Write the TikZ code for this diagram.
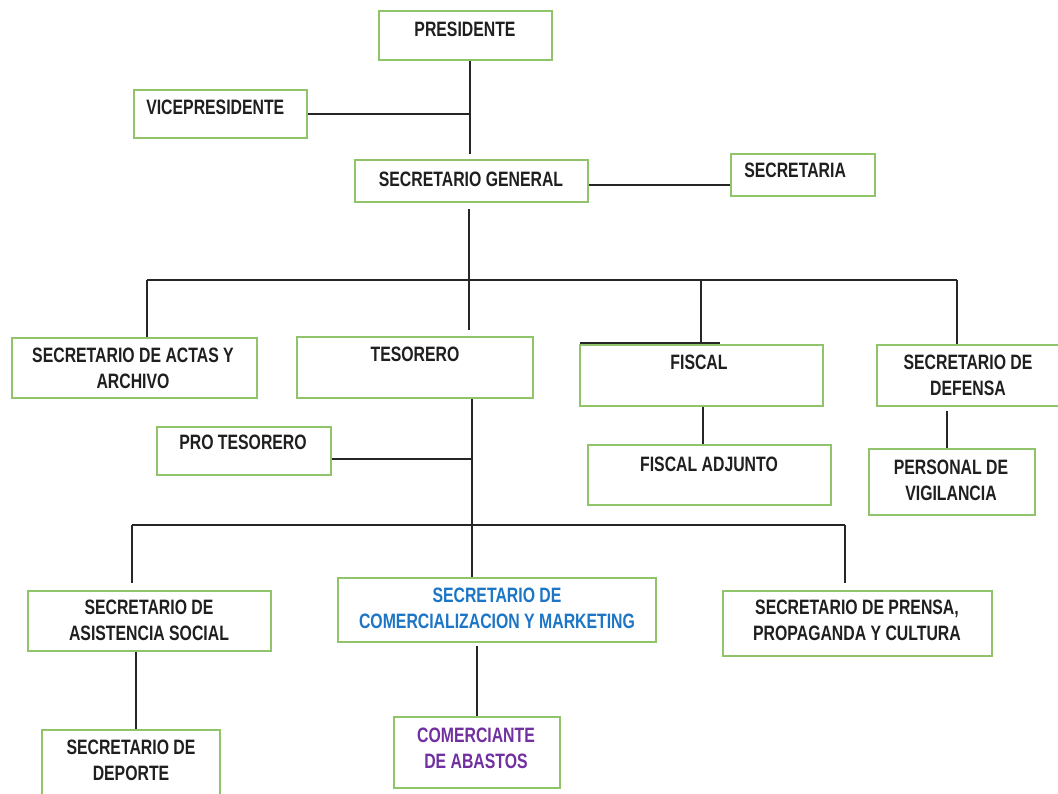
\documentclass[tikz,border=0pt]{standalone}
\usepackage{fontspec}
\newfontfamily\orgfont{Liberation Sans}[FakeStretch=0.76]
\usetikzlibrary{fit}
\definecolor{boxgreen}{HTML}{8FC46B}
\definecolor{txtblue}{HTML}{1C75C5}
\definecolor{txtpurple}{HTML}{7030A0}
\begin{document}
\begin{tikzpicture}[x=0.025cm,y=-0.025cm,
  box/.style={draw=boxgreen, line width=1.4pt, inner sep=0pt},
  lbl/.style={font=\orgfont\bfseries\fontsize{14.8}{18.5}\selectfont, text=black!88, align=center, inner sep=0pt, anchor=north},
  conn/.style={draw=black!85, line width=1.05pt}]
\useasboundingbox (0,0) rectangle (1058,794);
% boxes
\node[box, fit={(379,11) (552,60)}] (pres) {};
\node[box, fit={(134,90) (307,138)}] (vice) {};
\node[box, fit={(355,160) (588,202)}] (sg) {};
\node[box, fit={(731,154) (875,196)}] (sec) {};
\node[box, fit={(12,338) (257,398)}] (actas) {};
\node[box, fit={(297,337) (533,398)}] (tes) {};
\node[box, fit={(580,345) (823,406)}] (fis) {};
\node[box, fit={(877,345) (1064,406)}] (def) {};
\node[box, fit={(588,445) (831,505)}] (fisadj) {};
\node[box, fit={(869,449) (1035,515)}] (vig) {};
\node[box, fit={(157,427) (331,475)}] (pro) {};
\node[box, fit={(28,591) (271,651)}] (asis) {};
\node[box, fit={(338,578) (656,642)}] (scm) {};
\node[box, fit={(723,591) (992,656)}] (pren) {};
\node[box, fit={(394,717) (560,788)}] (com) {};
\node[box, fit={(42,730) (220,800)}] (dep) {};
% labels
\node[lbl] (tpres) at (465,22) {PRESIDENTE};
\node[lbl, anchor=north west] (tvice) at (146,100) {VICEPRESIDENTE};
\node[lbl] (tsg) at (471,172) {SECRETARIO GENERAL};
\node[lbl, anchor=north west] (tsec) at (744,163) {SECRETARIA};
\node[lbl] (tactas) at (133,348) {SECRETARIO DE ACTAS Y\\ARCHIVO};
\node[lbl] (ttes) at (415,347) {TESORERO};
\node[lbl] (tfis) at (699,355) {FISCAL};
\node[lbl] (tdef) at (968,355) {SECRETARIO DE\\DEFENSA};
\node[lbl] (tvig) at (951,460) {PERSONAL DE\\VIGILANCIA};
\node[lbl] (tfisadj) at (709,457) {FISCAL ADJUNTO};
\node[lbl] (tpro) at (243,435) {PRO TESORERO};
\node[lbl] (tasis) at (149,600) {SECRETARIO DE\\ASISTENCIA SOCIAL};
\node[lbl, text=txtblue] (tscm) at (497,588) {SECRETARIO DE\\COMERCIALIZACION Y MARKETING};
\node[lbl] (tpren) at (857,600) {SECRETARIO DE PRENSA,\\PROPAGANDA Y CULTURA};
\node[lbl, text=txtpurple] (tcom) at (476,728) {COMERCIANTE\\DE ABASTOS};
\node[lbl] (tdep) at (131,740) {SECRETARIO DE\\DEPORTE};
% junction coordinates
\coordinate (jv) at (470,114);
\coordinate (js) at (660,185);
\coordinate (bL) at (147,280);
\coordinate (bR) at (957,280);
\coordinate (bF) at (701,280);
\coordinate (tr) at (469,330);
\coordinate (jp) at (472,459);
\coordinate (b2L) at (132,525);
\coordinate (b2R) at (845,525);
% connectors
\draw[conn] (pres.south -| jv) -- (470,154);
\draw[conn] (vice.east |- jv) -- (jv);
\draw[conn] (sg.east |- js) -- (sec.west |- js);
\draw[conn] (sg.south -| tr) ++(0,6) -- (tr);
\draw[conn] (bL) -- (bR);
\draw[conn] (bL) -- (actas.north -| bL);
\draw[conn] (bF) -- (701,343);
\draw[conn] (580,343) -- (720,343);
\draw[conn] (bR) -- (def.north -| bR);
\draw[conn] (fis.south -| 703,0) -- (fisadj.north -| 703,0);
\draw[conn] (def.south -| 947,0) ++(0,4) -- (vig.north -| 947,0);
\draw[conn] (tes.south -| jp) -- (scm.north -| jp);
\draw[conn] (pro.east |- jp) -- (jp);
\draw[conn] (b2L) -- (b2R);
\draw[conn] (b2L) -- ++(0,58);
\draw[conn] (b2R) -- ++(0,58);
\draw[conn] (scm.south -| 477,0) ++(0,3) -- (com.north -| 477,0);
\draw[conn] (asis.south -| 136,0) -- (dep.north -| 136,0);
\end{tikzpicture}
\end{document}
